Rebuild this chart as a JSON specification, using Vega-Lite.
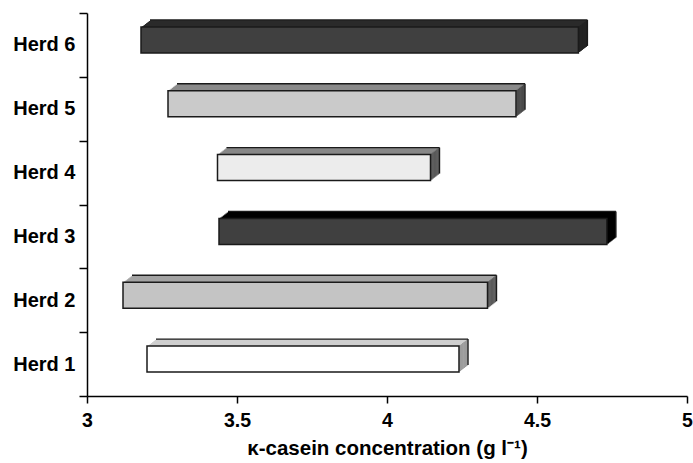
{
  "$schema": "https://vega.github.io/schema/vega-lite/v6.json",
  "width": 600,
  "height": 383,
  "autosize": {"type": "none"},
  "padding": {"left": 87, "top": 13, "right": 6, "bottom": 67},
  "background": "white",
  "config": {
    "view": {"stroke": null},
    "axisX": {
      "grid": false, "domainColor": "black", "domainWidth": 1.5, "tickColor": "black", "tickWidth": 1.5, "tickSize": 7,
      "labelFont": "Liberation Sans", "labelFontWeight": "bold", "labelFontSize": 19.5, "labelColor": "black",
      "labelPadding": 8, "labelFlush": false, "labelOverlap": false,
      "titleFont": "Liberation Sans", "titleFontWeight": "bold", "titleFontSize": 20.5, "titleColor": "black", "titlePadding": 9
    },
    "axisY": {
      "domainColor": "black", "domainWidth": 1.5,
      "tickColor": "black", "tickWidth": 1.5, "tickSize": 8, "tickBand": "extent",
      "labelFont": "Liberation Sans", "labelFontWeight": "bold", "labelFontSize": 20,
      "labelColor": "black", "labelPadding": 4
    }
  },
  "data": {"values": [
    {"herd": "Herd 1", "low": 3.20, "high": 4.24},
    {"herd": "Herd 2", "low": 3.12, "high": 4.335},
    {"herd": "Herd 3", "low": 3.44, "high": 4.733},
    {"herd": "Herd 4", "low": 3.435, "high": 4.145},
    {"herd": "Herd 5", "low": 3.27, "high": 4.43},
    {"herd": "Herd 6", "low": 3.18, "high": 4.638}
  ]},
  "encoding": {
    "y": {
      "field": "herd", "type": "nominal", "sort": "descending", "title": null,
      "scale": {"paddingInner": 0, "paddingOuter": 0}
    }
  },
  "layer": [
    {
      "encoding": {
        "x": {"field": "low", "type": "quantitative", "title": "κ-casein concentration (g l⁻¹)", "scale": {"domain": [3, 5], "nice": false, "zero": false}, "axis": {"values": [3, 3.5, 4, 4.5, 5], "format": "~g"}},
        "x2": {"field": "high"},
        "color": {"field": "herd", "type": "nominal", "legend": null,
          "scale": {"domain": ["Herd 1", "Herd 2", "Herd 3", "Herd 4", "Herd 5", "Herd 6"],
                    "range": ["#cfcfcf", "#a3a3a3", "#000000", "#878787", "#8a8a8a", "#2a2a2a"]}}
      },
      "layer": [
        {"mark": {"type": "bar", "height": 26, "xOffset": 9, "x2Offset": 9, "yOffset": -12, "y2Offset": -12, "opacity": 1}},
        {"mark": {"type": "bar", "height": 26, "xOffset": 7.71, "x2Offset": 7.71, "yOffset": -11, "y2Offset": -11, "opacity": 1}},
        {"mark": {"type": "bar", "height": 26, "xOffset": 6.43, "x2Offset": 6.43, "yOffset": -10, "y2Offset": -10, "opacity": 1}},
        {"mark": {"type": "bar", "height": 26, "xOffset": 5.14, "x2Offset": 5.14, "yOffset": -9, "y2Offset": -9, "opacity": 1}},
        {"mark": {"type": "bar", "height": 26, "xOffset": 3.86, "x2Offset": 3.86, "yOffset": -8, "y2Offset": -8, "opacity": 1}},
        {"mark": {"type": "bar", "height": 26, "xOffset": 2.57, "x2Offset": 2.57, "yOffset": -7, "y2Offset": -7, "opacity": 1}},
        {"mark": {"type": "bar", "height": 26, "xOffset": 1.29, "x2Offset": 1.29, "yOffset": -6, "y2Offset": -6, "opacity": 1}}
      ]
    },
    {
      "encoding": {
        "x": {"field": "high", "type": "quantitative", "title": "κ-casein concentration (g l⁻¹)", "scale": {"domain": [3, 5], "nice": false, "zero": false}, "axis": {"values": [3, 3.5, 4, 4.5, 5], "format": "~g"}},
        "color": {"field": "herd", "type": "nominal", "legend": null,
          "scale": {"domain": ["Herd 1", "Herd 2", "Herd 3", "Herd 4", "Herd 5", "Herd 6"],
                    "range": ["#9c9c9c", "#5a5a5a", "#000000", "#5a5a5a", "#4a4a4a", "#222222"]}}
      },
      "layer": [
        {"mark": {"type": "tick", "orient": "vertical", "size": 26, "thickness": 1.6, "xOffset": 1.29, "yOffset": -6, "opacity": 1}},
        {"mark": {"type": "tick", "orient": "vertical", "size": 26, "thickness": 1.6, "xOffset": 2.57, "yOffset": -7, "opacity": 1}},
        {"mark": {"type": "tick", "orient": "vertical", "size": 26, "thickness": 1.6, "xOffset": 3.86, "yOffset": -8, "opacity": 1}},
        {"mark": {"type": "tick", "orient": "vertical", "size": 26, "thickness": 1.6, "xOffset": 5.14, "yOffset": -9, "opacity": 1}},
        {"mark": {"type": "tick", "orient": "vertical", "size": 26, "thickness": 1.6, "xOffset": 6.43, "yOffset": -10, "opacity": 1}},
        {"mark": {"type": "tick", "orient": "vertical", "size": 26, "thickness": 1.6, "xOffset": 7.71, "yOffset": -11, "opacity": 1}}
      ]
    },
    {
      "encoding": {
        "x": {"field": "high", "type": "quantitative", "title": "κ-casein concentration (g l⁻¹)", "scale": {"domain": [3, 5], "nice": false, "zero": false}, "axis": {"values": [3, 3.5, 4, 4.5, 5], "format": "~g"}}
      },
      "mark": {"type": "tick", "orient": "vertical", "size": 26, "thickness": 1.4, "xOffset": 9, "yOffset": -12, "color": "#1a1a1a", "opacity": 1}
    },
    {
      "encoding": {
        "x": {"field": "low", "type": "quantitative", "title": "κ-casein concentration (g l⁻¹)", "scale": {"domain": [3, 5], "nice": false, "zero": false}, "axis": {"values": [3, 3.5, 4, 4.5, 5], "format": "~g"}},
        "x2": {"field": "high"}
      },
      "mark": {"type": "rule", "xOffset": 9, "x2Offset": 9, "yOffset": -25, "y2Offset": -25, "color": "#1a1a1a", "strokeWidth": 1.3}
    },
    {
      "encoding": {
        "x": {"field": "low", "type": "quantitative", "title": "κ-casein concentration (g l⁻¹)", "scale": {"domain": [3, 5], "nice": false, "zero": false}, "axis": {"values": [3, 3.5, 4, 4.5, 5], "format": "~g"}},
        "x2": {"field": "high"},
        "color": {"field": "herd", "type": "nominal", "legend": null,
          "scale": {"domain": ["Herd 1", "Herd 2", "Herd 3", "Herd 4", "Herd 5", "Herd 6"],
                    "range": ["#ffffff", "#c4c4c4", "#404040", "#ececec", "#cacaca", "#404040"]}}
      },
      "mark": {"type": "bar", "height": 26, "yOffset": -5, "y2Offset": -5, "stroke": "#1a1a1a", "strokeWidth": 1.5, "opacity": 1}
    }
  ],
  "resolve": {"scale": {"color": "independent"}}
}
